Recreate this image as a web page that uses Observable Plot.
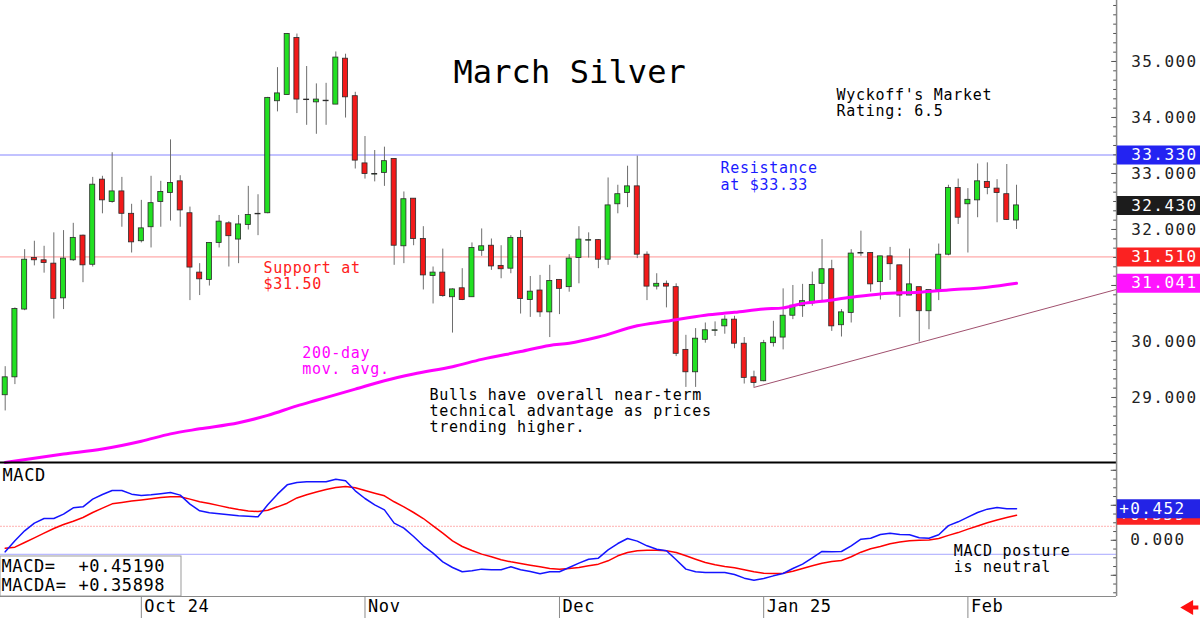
<!DOCTYPE html>
<html><head><meta charset="utf-8">
<script src="https://cdn.jsdelivr.net/npm/d3@7"></script>
<script src="https://cdn.jsdelivr.net/npm/@observablehq/plot@0.6"></script>
<style>
body{margin:0;background:#fff;}
#chart{width:1200px;height:618px;overflow:hidden;background:#fff;}
#chart svg{display:block;}
</style></head>
<body><div id="chart"></div>
<script>
// ---- candle data (index 0..104, daily bars) ----
const opens = [29.04,29.36,30.57,31.49,31.45,31.39,30.77,31.45,31.89,31.37,32.89,32.49,32.68,32.28,31.79,32.04,32.49,32.65,32.86,32.29,31.23,31.10,31.76,32.11,31.82,32.08,32.28,32.29,34.29,34.40,35.42,34.32,34.27,34.29,34.23,35.05,34.38,33.18,32.98,33.01,33.26,31.70,32.55,31.83,31.17,31.23,30.79,30.95,30.79,31.62,31.71,31.35,31.30,31.85,30.74,30.91,30.52,31.10,30.97,31.49,31.80,31.81,31.46,32.45,32.65,32.77,31.55,30.98,31.03,30.97,29.85,29.45,30.03,30.19,30.27,30.39,29.96,29.36,29.29,29.97,30.07,30.46,30.63,30.68,31.03,31.29,30.29,30.51,31.57,31.58,31.06,31.52,31.36,30.82,30.97,30.54,30.92,31.55,32.74,32.45,32.52,32.85,32.73,32.63,32.16];
const highs = [29.55,30.60,31.64,31.79,31.70,31.94,31.98,32.11,31.90,32.93,32.95,33.37,32.93,32.45,32.52,32.95,32.86,33.60,32.96,32.40,31.39,31.76,32.25,32.14,32.25,32.77,32.62,34.36,34.89,35.50,35.49,34.91,34.60,34.61,35.17,35.13,34.45,33.66,33.41,33.47,33.26,32.67,32.55,32.05,31.33,31.65,30.94,31.30,31.76,32.01,31.83,31.71,31.89,31.98,31.16,31.18,31.36,31.10,31.55,32.05,31.94,31.82,32.92,32.79,33.13,33.31,31.60,31.21,31.08,31.03,30.11,30.23,30.33,30.35,30.46,30.45,30.07,29.47,30.02,30.36,30.94,31.00,31.02,31.24,31.82,31.45,30.57,31.64,31.97,31.58,31.52,31.68,31.36,31.65,30.97,30.92,31.74,32.79,32.90,32.73,33.17,33.19,32.89,33.16,32.79];
const lows = [28.76,29.23,30.55,31.35,31.22,30.40,30.57,31.43,31.05,31.33,32.28,32.47,32.04,31.58,31.76,31.67,32.04,32.15,32.04,30.73,30.82,30.99,31.67,31.33,31.39,31.99,31.89,32.28,34.10,34.40,34.07,33.86,33.70,33.86,34.23,33.99,33.08,32.90,32.85,32.77,31.36,31.39,31.71,30.92,30.67,30.79,30.15,30.73,30.79,31.52,31.27,31.12,31.21,30.49,30.43,30.43,30.07,30.48,30.88,31.03,31.49,31.30,31.36,32.28,32.39,31.48,30.73,30.92,30.60,29.73,29.18,29.18,29.97,30.09,30.13,29.87,29.24,29.18,29.28,29.90,29.85,30.39,30.43,30.63,30.70,30.18,30.08,30.33,31.52,30.88,30.74,31.09,30.43,30.82,29.99,30.21,30.73,31.53,32.09,31.58,32.21,32.62,32.12,32.16,32.00];
const closes = [29.36,30.58,31.46,31.45,31.40,30.76,31.48,31.85,31.36,32.80,32.52,32.68,32.28,31.77,32.02,32.47,32.67,32.83,32.34,31.32,31.11,31.76,32.14,31.88,32.09,32.26,32.27,34.35,34.43,35.49,34.32,34.31,34.32,34.30,35.07,34.36,33.23,32.99,32.99,33.22,31.71,32.54,31.83,31.18,31.23,30.81,30.93,30.74,31.67,31.70,31.34,31.29,31.85,30.76,30.89,30.52,31.08,30.94,31.48,31.82,31.81,31.46,32.43,32.63,32.77,31.55,30.98,31.03,30.98,29.78,29.45,30.05,30.20,30.20,30.39,29.96,29.35,29.26,29.97,30.07,30.46,30.64,30.72,31.01,31.29,30.27,30.52,31.57,31.58,31.02,31.52,31.38,30.82,31.02,30.54,30.92,31.55,32.74,32.21,32.53,32.86,32.74,32.65,32.17,32.43];

// ---- 200-day moving average (read at sample bars) ----
const maIdx = [0,6,10,14,17,20,24,27,30,32,36,39,42,46,49,53,56,58,61,65,68,72,75,78,80,82,84,87,90,94,97,101,104];
const maVal = [27.84,27.99,28.08,28.22,28.35,28.44,28.55,28.68,28.85,28.95,29.15,29.30,29.42,29.55,29.68,29.82,29.93,29.97,30.08,30.28,30.36,30.47,30.52,30.58,30.60,30.68,30.72,30.79,30.85,30.88,30.92,30.97,31.04];

// ---- up trendline ----
const trendIdx = [77, 114.29];
const trendVal = [29.18, 30.93];

// ---- MACD and signal (MACDA) per bar ----
const macd = [-0.165,-0.008,0.135,0.245,0.311,0.311,0.373,0.464,0.478,0.588,0.654,0.711,0.711,0.659,0.640,0.650,0.665,0.683,0.645,0.516,0.421,0.392,0.380,0.365,0.350,0.342,0.335,0.507,0.659,0.792,0.826,0.835,0.835,0.835,0.873,0.850,0.707,0.597,0.507,0.435,0.245,0.173,0.054,-0.079,-0.184,-0.308,-0.389,-0.450,-0.436,-0.412,-0.422,-0.422,-0.379,-0.422,-0.446,-0.479,-0.450,-0.450,-0.389,-0.327,-0.270,-0.255,-0.136,-0.046,0.026,-0.012,-0.079,-0.127,-0.150,-0.279,-0.412,-0.450,-0.460,-0.460,-0.460,-0.489,-0.541,-0.570,-0.546,-0.508,-0.474,-0.403,-0.340,-0.250,-0.160,-0.165,-0.160,-0.080,0.016,0.030,0.083,0.102,0.083,0.078,0.035,0.030,0.080,0.210,0.264,0.330,0.397,0.445,0.469,0.450,0.452];
const signal = [-0.112,-0.098,-0.031,0.035,0.102,0.169,0.226,0.273,0.326,0.397,0.459,0.521,0.540,0.560,0.577,0.595,0.610,0.621,0.621,0.588,0.550,0.525,0.495,0.465,0.440,0.420,0.411,0.430,0.478,0.530,0.605,0.650,0.690,0.725,0.755,0.769,0.750,0.711,0.673,0.635,0.550,0.478,0.397,0.311,0.207,0.102,-0.008,-0.089,-0.146,-0.198,-0.236,-0.279,-0.308,-0.331,-0.355,-0.379,-0.403,-0.412,-0.403,-0.389,-0.365,-0.341,-0.293,-0.222,-0.174,-0.150,-0.141,-0.141,-0.150,-0.174,-0.222,-0.270,-0.317,-0.350,-0.374,-0.393,-0.422,-0.450,-0.470,-0.474,-0.470,-0.441,-0.403,-0.365,-0.327,-0.303,-0.289,-0.235,-0.170,-0.120,-0.089,-0.050,-0.025,-0.008,0.002,0.005,0.025,0.070,0.110,0.160,0.205,0.250,0.290,0.325,0.359];

// ---- axis / labels ----
const priceTicks = [29,30,31,32,33,34,35];
const dateIdx = [14,37,57,78,99];
const dateLabels = ["Oct 24","Nov","Dec","Jan 25","Feb"];
const resistance = 33.33, support = 31.51;
const priceTags = [33.33, 32.43, 31.51, 31.041];
const priceTagText = ["33.330","32.430","31.510","31.041"];
const priceTagColor = ["#2323f2","#1c1c1c","#fb2222","#ff14ff"];
const signalTag = 0.359, signalTagText = "+0.359";
const macdTag = 0.452, macdTagText = "+0.452";
const macdRefHi = 0.2, macdRefLo = -0.2;

// ---- layout constants ----
const X0 = -0.483, XR = 122.92, AX = 114.29;
const GREEN = "#22e022", RED = "#f21a1a";
const FONT = "DejaVu Sans Mono";

const candles = opens.map((o, i) => ({i, o, h: highs[i], l: lows[i], c: closes[i]}));
const ma = maIdx.map((i, k) => ({i, v: maVal[k]}));
const trend = trendIdx.map((i, k) => ({i, v: trendVal[k]}));
const minorTicks = d3.range(0, 49).map(k => 28 + k / 6).filter(v => v < 36.08);
const tags = priceTags.map((v, k) => ({v, t: priceTagText[k], c: priceTagColor[k]}));

const main = Plot.plot({
  width: 1200, height: 463,
  marginLeft: 0, marginRight: 0, marginTop: 0, marginBottom: 0,
  x: {domain: [X0, XR], range: [0, 1200], axis: null},
  y: {domain: [27.839, 36.089], range: [462, 0], axis: null},
  color: {type: "identity"},
  style: {fontFamily: FONT, background: "white", overflow: "visible"},
  marks: [
    Plot.ruleY([resistance], {x1: X0, x2: AX, stroke: "#8585ff", strokeWidth: 1}),
    Plot.ruleY([support], {x1: X0, x2: AX, stroke: "#ff9494", strokeWidth: 1}),
    Plot.line(trend, {x: "i", y: "v", stroke: "#a0506e", strokeWidth: 1}),
    Plot.ruleX(candles, {x: "i", y1: "l", y2: "h", stroke: "#6e6e6e", strokeWidth: 1}),
    Plot.rect(candles, {x1: d => d.i - 0.26, x2: d => d.i + 0.26, y1: "o", y2: "c",
      fill: d => d.c >= d.o ? GREEN : RED, stroke: "#2a2a2a", strokeWidth: 0.8}),
    Plot.line(ma, {x: "i", y: "v", stroke: "#ff00ff", strokeWidth: 3, curve: "monotone-x"}),
    Plot.ruleY([27.839], {x1: X0, x2: AX, stroke: "#000", strokeWidth: 2}),
    Plot.ruleX([AX], {stroke: "#8a8a8a", strokeWidth: 1.5}),
    Plot.ruleY(minorTicks, {x1: AX - 0.3, x2: AX, stroke: "#555"}),
    Plot.ruleY(priceTicks, {x1: AX - 0.5, x2: AX, stroke: "#555"}),
    Plot.text(priceTicks, {y: d => d, text: d => d.toFixed(3), frameAnchor: "right", dx: -3, textAnchor: "end", fontSize: 16, fill: "#222"}),
    Plot.ruleY(tags, {y: "v", x1: AX + 0.08, x2: XR, stroke: "c", strokeWidth: 19}),
    Plot.text(tags, {y: "v", text: "t", frameAnchor: "right", dx: -3, textAnchor: "end", fontSize: 16, fill: "white"}),
    Plot.text(["March Silver"], {x: 46.1, y: 34.607, text: d => d, textAnchor: "start", lineAnchor: "bottom", fontSize: 32, fill: "#000"}),
    Plot.text(["Wyckoff's Market\nRating: 6.5"], {x: 85.49, y: 34.027, text: d => d, textAnchor: "start", lineAnchor: "bottom", fontSize: 15, lineHeight: 1.07, fill: "#000"}),
    Plot.text(["Resistance\nat $33.33"], {x: 73.56, y: 32.714, text: d => d, textAnchor: "start", lineAnchor: "bottom", fontSize: 15, lineHeight: 1.07, fill: "#1a1aff"}),
    Plot.text(["Support at\n$31.50"], {x: 26.56, y: 30.941, text: d => d, textAnchor: "start", lineAnchor: "bottom", fontSize: 15, lineHeight: 1.07, fill: "#ff2020"}),
    Plot.text(["200-day\nmov. avg."], {x: 30.54, y: 29.423, text: d => d, textAnchor: "start", lineAnchor: "bottom", fontSize: 15, lineHeight: 1.07, fill: "#ff00ff"}),
    Plot.text(["Bulls have overall near-term\ntechnical advantage as prices\ntrending higher."], {x: 43.63, y: 28.38, text: d => d, textAnchor: "start", lineAnchor: "bottom", fontSize: 15, lineHeight: 1.07, fill: "#000"})
  ]
});

const macdMinor = d3.range(-6, 9).map(k => k * 0.125);
const macdMajor = [-0.5, 0, 0.5, 1.0];
const YB = -0.803;

const lower = Plot.plot({
  width: 1200, height: 155,
  marginLeft: 0, marginRight: 0, marginTop: 0, marginBottom: 0,
  x: {domain: [X0, XR], range: [0, 1200], axis: null},
  y: {domain: [YB, 1.097], range: [133, 0], axis: null},
  color: {type: "identity"},
  style: {fontFamily: FONT, background: "white", overflow: "visible"},
  marks: [
    Plot.ruleY([macdRefHi], {x1: X0, x2: AX, stroke: "#ffb0b0", strokeWidth: 1, strokeDasharray: "2,1"}),
    Plot.ruleY([macdRefLo], {x1: X0, x2: AX, stroke: "#a8a8ff", strokeWidth: 1}),
    Plot.line(signal, {x: (d, i) => i, y: d => d, stroke: "#ff0000", strokeWidth: 1.5}),
    Plot.line(macd, {x: (d, i) => i, y: d => d, stroke: "#1414ff", strokeWidth: 1.5}),
    Plot.rect([0], {x1: X0, x2: 18.13, y1: YB, y2: -0.2314, fill: "white", stroke: "#9a9a9a", strokeWidth: 1}),
    Plot.text(["MACD=", "MACDA="], {x: -0.38, y: [-0.46, -0.721], text: d => d, textAnchor: "start", lineAnchor: "bottom", fontSize: 17, fill: "#000"}),
    Plot.text(["+0.45190", "+0.35898"], {x: 7.54, y: [-0.46, -0.721], text: d => d, textAnchor: "start", lineAnchor: "bottom", fontSize: 17, fill: "#000"}),
    Plot.text(["MACD"], {x: -0.28, y: 0.85, text: d => d, textAnchor: "start", lineAnchor: "bottom", fontSize: 17, fill: "#000"}),
    Plot.text(["MACD posture\nis neutral"], {x: 97.55, y: -0.45, text: d => d, textAnchor: "start", lineAnchor: "bottom", fontSize: 15, lineHeight: 1.07, fill: "#000"}),
    Plot.ruleX([AX], {y1: YB, y2: 1.097, stroke: "#8a8a8a", strokeWidth: 1.5}),
    Plot.ruleY([YB], {x1: X0, x2: AX, stroke: "#8a8a8a", strokeWidth: 1}),
    Plot.ruleY(macdMinor, {x1: AX - 0.3, x2: AX, stroke: "#555"}),
    Plot.ruleY(macdMajor, {x1: AX - 0.55, x2: AX, stroke: "#555"}),
    Plot.text([0], {y: d => d, text: d => d.toFixed(3), frameAnchor: "right", dx: -15, textAnchor: "end", fontSize: 16, fill: "#222"}),
    Plot.ruleY([signalTag], {x1: AX + 0.08, x2: XR, stroke: "#fb2222", strokeWidth: 19}),
    Plot.text([signalTag], {y: d => d, text: () => signalTagText, frameAnchor: "right", dx: -15, textAnchor: "end", fontSize: 16, fill: "white"}),
    Plot.ruleY([macdTag], {x1: AX + 0.08, x2: XR, stroke: "#2323e6", strokeWidth: 19}),
    Plot.text([macdTag], {y: d => d, text: () => macdTagText, frameAnchor: "right", dx: -15, textAnchor: "end", fontSize: 16, fill: "white"}),
    Plot.ruleX(dateIdx, {y1: YB, y2: -1.12, stroke: "#8a8a8a", strokeWidth: 1}),
    Plot.text(dateIdx, {x: d => d, y: -1.024, text: (d, i) => dateLabels[i], textAnchor: "start", lineAnchor: "bottom", dx: 3, fontSize: 17, fill: "#000"}),
    Plot.ruleY([-0.96], {x1: 121.95, x2: 122.75, stroke: "#ff1010", strokeWidth: 4}),
    Plot.dot([-0.96], {x: 121.72, y: d => d, symbol: "triangle", r: 5.5, rotate: -90, fill: "#ff1010", stroke: "none"})
  ]
});

// letter spacing by font size (the reference font is widely spaced)
const spacing = {15: 0.7, 16: 1.4, 17: 0.6, 32: 0.1};
for (const svg of [main, lower]) {
  svg.querySelectorAll("g[font-size]").forEach(g => {
    const fs = +g.getAttribute("font-size");
    if (spacing[fs] != null) g.style.letterSpacing = spacing[fs] + "px";
  });
}

const host = document.getElementById("chart");
host.appendChild(main);
host.appendChild(lower);
</script>
</body></html>
